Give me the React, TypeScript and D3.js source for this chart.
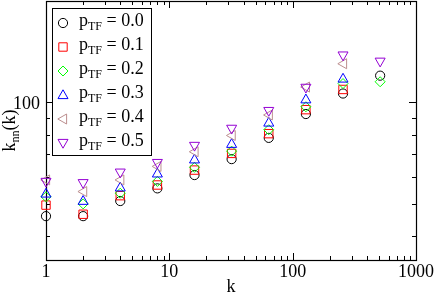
import React, { useRef, useEffect } from "react";
import * as d3 from "d3";

const W = 436;
const H = 295;
const margin = { top: 1, right: 20, bottom: 35, left: 46 };

const kValues = [1, 2, 4, 8, 16, 32, 64, 128, 256, 512];

// knn(k) for each p_TF, null where no point was drawn
const p00 = [45.9, 45.9, 50.9, 55.5, 60.8, 67.8, 78.4, 92.3, 106.2, 120.0];
const p01 = [49.5, 46.5, 52.8, 56.8, 62.9, 70.5, 80.7, 95.1, 109.2, null];
const p02 = [52.4, 49.9, 53.7, 58.2, 64.1, 71.6, 82.9, 97.0, 113.7, 115.1];
const p03 = [53.6, 51.0, 55.9, 61.5, 67.7, 75.3, 87.1, 102.1, 117.7, null];
const p04 = [58.8, 54.3, 58.8, 64.5, 71.3, 79.7, 91.7, 111.0, 130.2, null];
const p05 = [58.0, 57.5, 61.8, 66.0, 74.2, 83.4, 94.2, 110.4, 137.7, 132.0];

const seriesLabels = ["0.0", "0.1", "0.2", "0.3", "0.4", "0.5"];
const seriesValues = [p00, p01, p02, p03, p04, p05];
const seriesColors = ["#000000", "#ff0000", "#00ff00", "#0000ff", "#bc8f8f", "#9400d3"];
const seriesShapes = ["circle", "square", "diamond", "up", "left", "down"];

const xTicks = [1, 10, 100, 1000];
const yTicks = [100];

const FONT = "'Liberation Serif', 'DejaVu Serif', serif";

// path of a marker centred at 0,0
const markerPath = (shape: string) => {
  const r = 4.6;
  switch (shape) {
    case "circle":
      return `M${r},0A${r},${r} 0 1,1 ${-r},0A${r},${r} 0 1,1 ${r},0Z`;
    case "square":
      return `M${-4.2},${-4.2}H4.2V4.2H-4.2Z`;
    case "diamond":
      return `M0,-5L5,0L0,5L-5,0Z`;
    case "up":
      return `M0,-5.2L5,3.6H-5Z`;
    case "down":
      return `M0,5.2L5,-3.6H-5Z`;
    case "left":
      return `M-5.2,0L3.6,-5V5Z`;
    default:
      return "";
  }
};

const App: React.FC = () => {
  const svgRef = useRef<SVGSVGElement | null>(null);

  useEffect(() => {
    if (!svgRef.current) return;
    const svg = d3.select(svgRef.current);
    svg.selectAll("*").remove();

    const innerWidth = W - margin.left - margin.right;
    const innerHeight = H - margin.top - margin.bottom;

    const x = d3.scaleLog().domain([1, 1000]).range([0, innerWidth]);
    const y = d3.scaleLog().domain([34, 200]).range([innerHeight, 0]);

    const g = svg
      .append("g")
      .attr("transform", `translate(${margin.left},${margin.top})`);

    // minor ticks
    const xMinor = d3.range(1, 4).flatMap((e) =>
      d3.range(2, 10).map((m) => m * Math.pow(10, e - 1))
    );
    const yMinor = [40, 50, 60, 70, 80, 90];

    const ticks = g.append("g").attr("stroke", "#000").attr("stroke-width", 1);
    const tickLen = (major: boolean) => (major ? 7 : 4);

    const xt = [
      ...xTicks.map((v) => ({ v, major: true })),
      ...xMinor.map((v) => ({ v, major: false })),
    ];
    xt.forEach(({ v, major }) => {
      const px = Math.round(x(v)) + 0.5;
      ticks.append("line").attr("x1", px).attr("x2", px)
        .attr("y1", innerHeight).attr("y2", innerHeight - tickLen(major));
      ticks.append("line").attr("x1", px).attr("x2", px)
        .attr("y1", 0).attr("y2", tickLen(major));
    });

    const yt = [
      ...yTicks.map((v) => ({ v, major: true })),
      ...yMinor.map((v) => ({ v, major: false })),
    ];
    yt.forEach(({ v, major }) => {
      const py = Math.round(y(v)) + 0.5;
      ticks.append("line").attr("x1", 0).attr("x2", tickLen(major))
        .attr("y1", py).attr("y2", py);
      ticks.append("line").attr("x1", innerWidth).attr("x2", innerWidth - tickLen(major))
        .attr("y1", py).attr("y2", py);
    });

    // frame
    g.append("rect")
      .attr("x", 0.5)
      .attr("y", 0.5)
      .attr("width", innerWidth)
      .attr("height", innerHeight)
      .attr("fill", "none")
      .attr("stroke", "#000")
      .attr("stroke-width", 1.2);

    // tick labels
    g.selectAll(".xlab")
      .data(xTicks)
      .enter()
      .append("text")
      .attr("x", (d) => x(d))
      .attr("y", innerHeight + 17)
      .attr("text-anchor", "middle")
      .style("font-family", FONT)
      .style("font-size", "18px")
      .text((d) => String(d));

    g.selectAll(".ylab")
      .data(yTicks)
      .enter()
      .append("text")
      .attr("x", -6)
      .attr("y", (d) => y(d))
      .attr("dy", "0.35em")
      .attr("text-anchor", "end")
      .style("font-family", FONT)
      .style("font-size", "18px")
      .text((d) => String(d));

    // axis labels
    g.append("text")
      .attr("x", innerWidth / 2)
      .attr("y", innerHeight + 32)
      .attr("text-anchor", "middle")
      .style("font-family", FONT)
      .style("font-size", "18px")
      .text("k");

    const yl = svg
      .append("text")
      .attr("transform", `translate(15,${margin.top + innerHeight / 2}) rotate(-90)`)
      .attr("text-anchor", "middle")
      .style("font-family", FONT)
      .style("font-size", "18px");
    yl.append("tspan").style("text-decoration", "overline").text("k");
    yl.append("tspan").attr("dy", 4).style("font-size", "12px").text("nn");
    yl.append("tspan").attr("dy", -4).text("(k)");

    // markers
    seriesValues.forEach((vals, i) => {
      g.append("g")
        .selectAll("path")
        .data(
          vals
            .map((v, j) => ({ k: kValues[j], v }))
            .filter((d) => d.v !== null) as { k: number; v: number }[]
        )
        .enter()
        .append("path")
        .attr("transform", (d) => `translate(${x(d.k)},${y(d.v)})`)
        .attr("d", markerPath(seriesShapes[i]))
        .attr("fill", "none")
        .attr("stroke", seriesColors[i])
        .attr("stroke-width", 1);
    });

    // legend
    const lg = svg.append("g").attr("transform", "translate(52.5,8.5)");
    lg.append("rect")
      .attr("width", 99)
      .attr("height", 147)
      .attr("fill", "#fff")
      .attr("stroke", "#000")
      .attr("stroke-width", 1);

    seriesLabels.forEach((lab, i) => {
      const base = 17.5 + i * 24;
      lg.append("path")
        .attr("transform", `translate(10.5,${base - 3})`)
        .attr("d", markerPath(seriesShapes[i]))
        .attr("fill", "none")
        .attr("stroke", seriesColors[i])
        .attr("stroke-width", 1);
      const t = lg
        .append("text")
        .attr("x", 26.5)
        .attr("y", base)
        .style("font-family", FONT)
        .style("font-size", "18px");
      t.append("tspan").text("p");
      t.append("tspan").attr("dy", 4).style("font-size", "12px").text("TF");
      t.append("tspan").attr("dy", -4).text(` = ${lab}`);
    });
  }, []);

  return (
    <div style={{ position: "fixed", left: 0, top: 0 }}>
      <svg ref={svgRef} width={W} height={H} style={{ display: "block" }} />
    </div>
  );
};

export default App;
